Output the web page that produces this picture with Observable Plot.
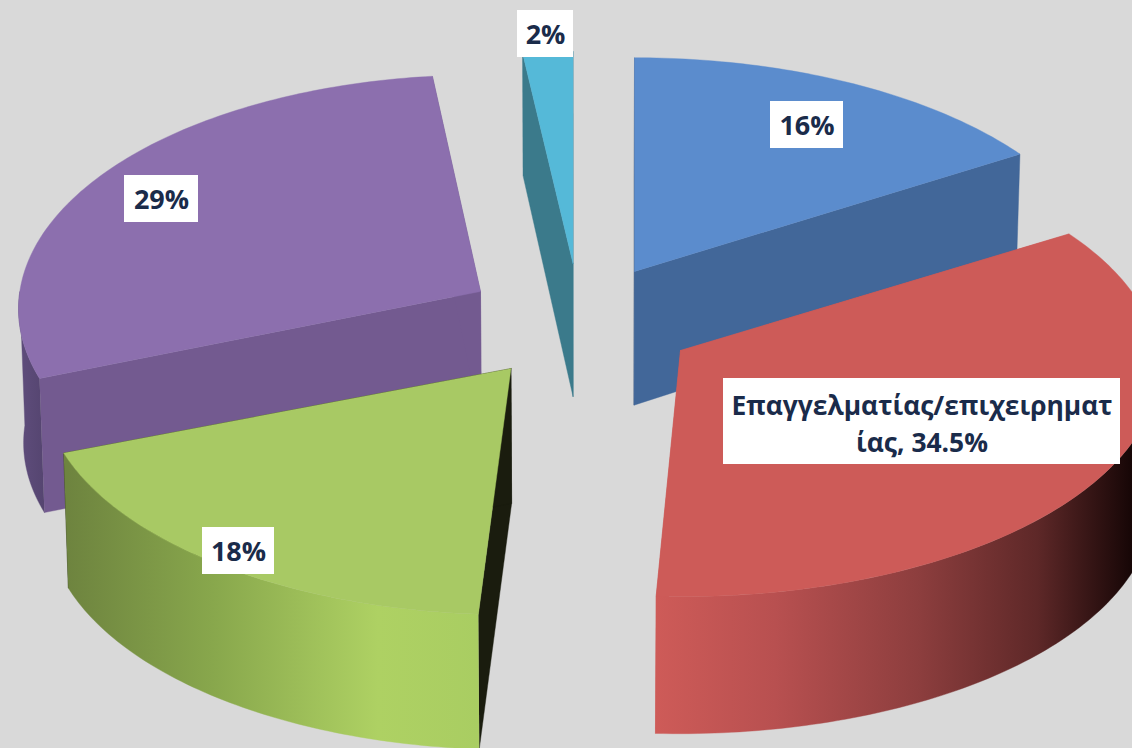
<!DOCTYPE html>
<html>
<head>
<meta charset="utf-8">
<script src="https://cdn.jsdelivr.net/npm/d3@7"></script>
<script src="https://cdn.jsdelivr.net/npm/@observablehq/plot@0.6"></script>
<style>
html,body{margin:0;padding:0;background:#d9d9d9;overflow:hidden}
svg{display:block}
</style>
</head>
<body>
<div id="chart"></div>
<script>
const sliceNames = ["blue", "red", "green", "purple", "cyan"];
const values = [16, 34.5, 18, 29, 2];
const labels = ["16%", "Επαγγελματίας/επιχειρηματ\nίας, 34.5%", "18%", "29%", "2%"];

// exploded position of each wedge's tip (Excel-style per-point explosion)
const tipX = [634, 680, 510.5, 480, 572.5];
const tipY = [271, 350, 368, 291, 263];
const radiusX = [1, 1.008, 0.987, 0.974, 0.91];
const radiusY = [1.007, 1, 1, 1.02, 1];
const turnDeg = [0, 0, 1, 0.8, 0];
const thickCap = [134, 137, 135, 134, 134];
const topFill = ["#5b8ccd", "#cd5b58", "#a8c964", "#8c6fae", "#55b9d8"];
const wallFill = ["#5b8ccd", "url(#redWall)", "url(#greenWall)", "url(#purpleWall)", "#55b9d8"];
const startFaceFill = ["#2f4a70", "#cd5b58", "#1a1c0e", "#735a90", "#3b7a8b"];
const endFaceFill = ["#426799", "#cd5b58", "#1a1c0e", "#735a90", "#3b7a8b"];
const drawOrder = [0, 4, 3, 1, 2];

// label boxes
const boxX1 = [770, 723, 202, 124, 517];
const boxX2 = [843, 1120, 274, 198, 573];
const boxY1 = [101, 378, 527, 175, 10];
const boxY2 = [148, 464, 574, 222, 57];

const W = 1132, H = 748;
const Rx = 473, Ry = 228, persp = 0.074, vanishX = 580;

const total = d3.sum(values);
const cum = d3.cumsum(values);
const angles = values.map((v, i) => [
  (cum[i] - v) / total * 2 * Math.PI + turnDeg[i] * Math.PI / 180,
  cum[i] / total * 2 * Math.PI + turnDeg[i] * Math.PI / 180
]);

function rim(i, a) {
  const s = 1 / (1 + persp * Math.cos(a));
  return {x: tipX[i] + Rx * radiusX[i] * Math.sin(a) * s, y: tipY[i] - Ry * radiusY[i] * Math.cos(a) * s};
}
function drop(i, p) {
  const t = Math.min(thickCap[i], 123 + 0.05 * (p.y - 57));
  return {x: p.x + (vanishX - p.x) * 0.009, y: p.y + t};
}
function arc(i, a0, a1) {
  const n = Math.max(8, Math.ceil((a1 - a0) * 60));
  return d3.range(n + 1).map(k => rim(i, a0 + (a1 - a0) * k / n));
}

const defs = () => {
  const d = d3.create("svg:defs");
  const grad = (id, x1, x2, stops) => {
    const g = d.append("linearGradient").attr("id", id).attr("gradientUnits", "userSpaceOnUse")
      .attr("x1", x1).attr("x2", x2).attr("y1", 0).attr("y2", 0);
    stops.forEach(([o, c]) => g.append("stop").attr("offset", o).attr("stop-color", c));
  };
  grad("redWall", 655, 1132, [[0, "#ce5b58"], [0.25, "#b85050"], [0.55, "#8d3e3e"], [0.8, "#5e2828"], [1, "#160606"]]);
  grad("greenWall", 68, 480, [[0, "#6e843f"], [0.35, "#88a74c"], [0.75, "#aed163"], [1, "#a9cd62"]]);
  grad("purpleWall", 16, 46, [[0, "#604e7d"], [1, "#54446f"]]);
  return d.node();
};

const marks = [defs];
const face = (pts, fill) => Plot.line(pts, {x: "x", y: "y", fill, stroke: fill, strokeWidth: 0.4});
for (const i of drawOrder) {
  const [a0, a1] = angles[i];
  const rimPts = arc(i, a0, a1);
  const tip = {x: tipX[i], y: tipY[i]};
  const first = rimPts[0], last = rimPts[rimPts.length - 1];
  // flat faces of the cut
  marks.push(face([tip, first, drop(i, first), drop(i, tip), tip], startFaceFill[i]));
  marks.push(face([tip, last, drop(i, last), drop(i, tip), tip], endFaceFill[i]));
  // outer wall: only the part of the rim that faces the viewer
  const w0 = Math.max(a0, Math.PI / 2), w1 = Math.min(a1, 3 * Math.PI / 2);
  if (w1 > w0) {
    const wall = arc(i, w0, w1);
    marks.push(face([...wall, ...wall.map(p => drop(i, p)).reverse()], wallFill[i]));
  }
  // top surface
  marks.push(face([tip, ...rimPts, tip], topFill[i]));
}

const idx = d3.range(values.length);
marks.push(Plot.rect(idx, {
  x1: i => boxX1[i], x2: i => boxX2[i], y1: i => boxY1[i], y2: i => boxY2[i], fill: "#fff"
}));
marks.push(Plot.text(idx, {
  x: i => (boxX1[i] + boxX2[i]) / 2,
  y: i => (boxY1[i] + boxY2[i]) / 2 - (i === 1 ? 0 : 2.5),
  text: i => labels[i],
  fill: "#1a2b4a",
  fontFamily: "'Open Sans', sans-serif",
  fontWeight: 700,
  fontSize: i => (i === 1 ? 26.4 : 27),
  lineHeight: 1.4,
  textAnchor: "middle"
}));

const plot = Plot.plot({
  width: W, height: H,
  margin: 0,
  x: {domain: [0, W], range: [0, W], axis: null},
  y: {domain: [0, H], range: [0, H], axis: null},
  style: {background: "#d9d9d9"},
  marks
});
document.getElementById("chart").append(plot);
</script>
</body>
</html>
